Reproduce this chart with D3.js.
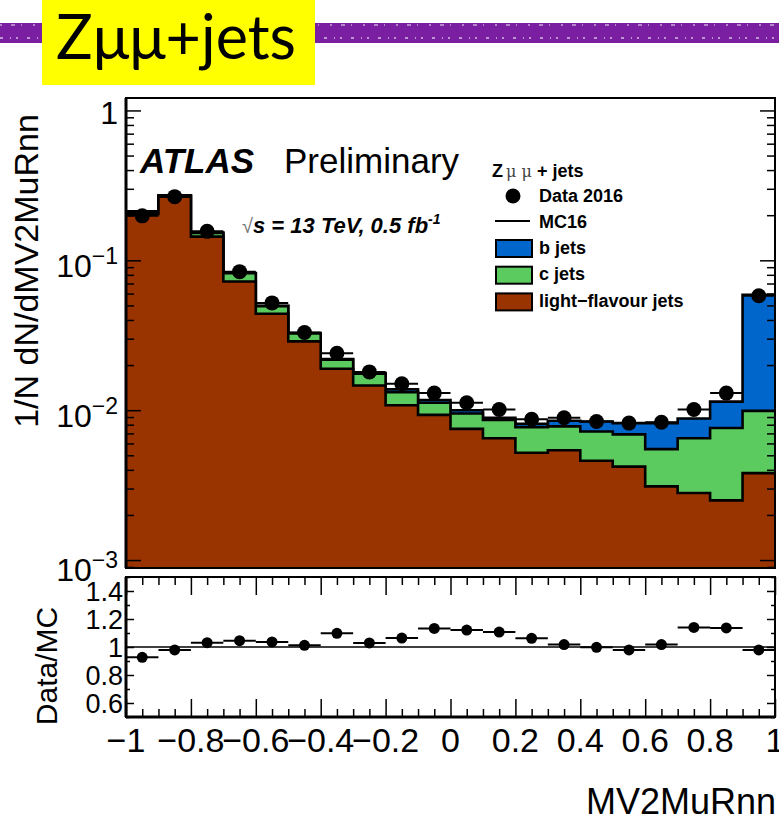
<!DOCTYPE html>
<html>
<head>
<meta charset="utf-8">
<script src="https://cdn.jsdelivr.net/npm/d3@7"></script>
<style>
  body { margin: 0; background: #fff; }
  svg { display: block; font-family: "Liberation Sans", Arial, Helvetica, sans-serif; }
</style>
</head>
<body>
<svg id="chart" width="779" height="822"></svg>
<script>
// bin edges of MV2MuRnn (20 bins)
const binEdges = [-1, -0.9, -0.8, -0.7, -0.6, -0.5, -0.4, -0.3, -0.2, -0.1, 0,
                  0.1, 0.2, 0.3, 0.4, 0.5, 0.6, 0.7, 0.8, 0.9, 1];

// MC16 stacked components (normalised)
const lightJets = [0.204, 0.266, 0.144, 0.0722, 0.0440, 0.0288, 0.0189, 0.0146, 0.0108, 0.0093,
                   0.0075, 0.0065, 0.0052, 0.0054, 0.0046, 0.0042, 0.0031, 0.0028, 0.0025, 0.0038];
const cJets = [0.006, 0.004, 0.008, 0.0098, 0.0055, 0.0037, 0.0028, 0.0029, 0.0024, 0.0019,
               0.0020, 0.0021, 0.0025, 0.0024, 0.0026, 0.0027, 0.0024, 0.0037, 0.0051, 0.0061];
const bJets = [0.002, 0.001, 0.001, 0.0003, 0.0002, 0.0002, 0.0002, 0.0002, 0.0006, 0.0005,
               0.0005, 0.0003, 0.0004, 0.0007, 0.0012, 0.0013, 0.0027, 0.0023, 0.0038, 0.049];

// Data 2016
const dataValues = [0.198, 0.266, 0.156, 0.084, 0.052, 0.033, 0.024, 0.018, 0.0150, 0.0130,
                    0.0112, 0.0101, 0.0087, 0.0089, 0.0084, 0.0082, 0.0083, 0.0101, 0.0130, 0.058];

// Data/MC ratio panel
const ratioValues = [0.926, 0.979, 1.031, 1.045, 1.036, 1.012, 1.098, 1.029, 1.064, 1.133,
                     1.121, 1.107, 1.062, 1.017, 0.998, 0.979, 1.017, 1.140, 1.136, 0.979];
const ratioErrors = [0.01, 0.01, 0.01, 0.01, 0.01, 0.01, 0.015, 0.015, 0.02, 0.02,
                     0.02, 0.02, 0.025, 0.02, 0.02, 0.02, 0.02, 0.02, 0.02, 0.012];

// tick labels
const mainYTicks = [1, 0.1, 0.01, 0.001];
const mainYExp = ["", "\u22121", "\u22122", "\u22123"];
const ratioYTicks = [0.6, 0.8, 1, 1.2, 1.4];
const xTickLabels = [-1, -0.8, -0.6, -0.4, -0.2, 0, 0.2, 0.4, 0.6, 0.8, 1];

const colors = { b: "#0066cc", c: "#5ccb5f", light: "#993300" };

const svg = d3.select("#chart");

const mainBox = { left: 126, right: 775, top: 98, bottom: 568 };
const ratioBox = { left: 126, right: 775, top: 577, bottom: 717 };

const x = d3.scaleLinear().domain([-1, 1]).range([mainBox.left, mainBox.right]);
const y = d3.scaleLog().domain([Math.pow(10, -3.053), Math.pow(10, 0.083)]).range([mainBox.bottom, mainBox.top]);
const yr = d3.scaleLinear().domain([0.5, 1.5]).range([ratioBox.bottom, ratioBox.top]);

// ---------- header banner ----------
svg.append("rect").attr("x", 0).attr("y", 23).attr("width", 779).attr("height", 20).attr("fill", "#7b1fa2");
svg.append("line").attr("x1", 0).attr("x2", 779).attr("y1", 38).attr("y2", 38)
  .attr("stroke", "#fff").attr("stroke-width", 1.5).attr("stroke-dasharray", "3 7 1 5 2 9").attr("opacity", 0.7);
svg.append("line").attr("x1", 0).attr("x2", 779).attr("y1", 25).attr("y2", 25)
  .attr("stroke", "#fff").attr("stroke-width", 1.5).attr("stroke-dasharray", "2 9 4 6 1 11").attr("opacity", 0.6);
svg.append("rect").attr("x", 42).attr("y", 0).attr("width", 273).attr("height", 85).attr("fill", "#ffff00");
svg.append("text").attr("x", 56).attr("y", 59)
  .style("font-family", "Lato, 'Open Sans', sans-serif").style("font-size", "61px")
  .attr("fill", "#000").text("Z\u03bc\u03bc+jets");

// ---------- main panel ----------
const clipMain = svg.append("defs").append("clipPath").attr("id", "clip-main");
clipMain.append("rect").attr("x", mainBox.left).attr("y", mainBox.top)
  .attr("width", mainBox.right - mainBox.left).attr("height", mainBox.bottom - mainBox.top);

const rows = lightJets.map((v, i) => ({ light: v, c: cJets[i], b: bJets[i] }));
const series = d3.stack().keys(["light", "c", "b"])(rows);

const stepPoints = s => {
  const pts = s.map((d, i) => [binEdges[i], d[1]]);
  pts.push([binEdges[binEdges.length - 1], s[s.length - 1][1]]);
  return pts;
};

const area = d3.area().curve(d3.curveStepAfter)
  .x(d => x(d[0])).y0(mainBox.bottom).y1(d => y(d[1]));
const line = d3.line().curve(d3.curveStepAfter)
  .x(d => x(d[0])).y(d => y(d[1]));

const gMain = svg.append("g").attr("clip-path", "url(#clip-main)");
// draw top-most layer first, like a ROOT stack
series.slice().reverse().forEach(s => {
  const pts = stepPoints(s);
  gMain.append("path").attr("d", area(pts)).attr("fill", colors[s.key]);
  gMain.append("path").attr("d", line(pts)).attr("fill", "none")
    .attr("stroke", "#000").attr("stroke-width", 2.6);
});

// data points
const gData = svg.append("g");
dataValues.forEach((v, i) => {
  const cx = x((binEdges[i] + binEdges[i + 1]) / 2);
  gData.append("line").attr("x1", x(binEdges[i])).attr("x2", x(binEdges[i + 1]))
    .attr("y1", y(v)).attr("y2", y(v)).attr("stroke", "#000").attr("stroke-width", 2);
  gData.append("circle").attr("cx", cx).attr("cy", y(v)).attr("r", 7.5).attr("fill", "#000");
});

// log y ticks (major on decades, minor 2..9)
const logTicks = y.ticks();
const isDecade = v => Math.abs(Math.log10(v) - Math.round(Math.log10(v))) < 1e-6;
const majorY = logTicks.filter(isDecade);
const minorY = logTicks.filter(v => !isDecade(v));

function tickAxis(axis, values, size, tx, ty) {
  const g = svg.append("g").attr("transform", `translate(${tx},${ty})`)
    .call(axis.tickValues(values).tickSize(size).tickFormat(""));
  g.select(".domain").remove();
  g.selectAll(".tick line").attr("stroke", "#000").attr("stroke-width", 1.5);
  return g;
}
tickAxis(d3.axisRight(y), majorY, 15, mainBox.left, 0);
tickAxis(d3.axisRight(y), minorY, 8, mainBox.left, 0);
tickAxis(d3.axisLeft(y), majorY, 15, mainBox.right, 0);
tickAxis(d3.axisLeft(y), minorY, 8, mainBox.right, 0);

// main frame
svg.append("rect").attr("x", mainBox.left).attr("y", mainBox.top)
  .attr("width", mainBox.right - mainBox.left).attr("height", mainBox.bottom - mainBox.top)
  .attr("fill", "none").attr("stroke", "#000").attr("stroke-width", 2);
svg.append("line").attr("x1", mainBox.left).attr("x2", mainBox.left)
  .attr("y1", mainBox.top).attr("y2", mainBox.bottom).attr("stroke", "#000").attr("stroke-width", 3);

// main y tick labels
mainYTicks.forEach((v, i) => {
  const t = svg.append("text").attr("x", 118).attr("y", y(v) + (i === 0 ? 14 : i === 3 ? 21 : 17))
    .attr("text-anchor", "end").style("font-size", "32px").attr("fill", "#000");
  if (i === 0) {
    t.text("1");
  } else {
    t.append("tspan").text("10");
    t.append("tspan").attr("dy", -13).style("font-size", "23px").text(mainYExp[i]);
  }
});

// main y title
svg.append("text").attr("transform", "translate(38,271) rotate(-90)")
  .attr("text-anchor", "middle").style("font-size", "34px").attr("fill", "#000")
  .text("1/N dN/dMV2MuRnn");

// ATLAS label
svg.append("text").attr("x", 140).attr("y", 173)
  .style("font-size", "35px").style("font-weight", "bold").style("font-style", "italic")
  .attr("fill", "#000").text("ATLAS");
svg.append("text").attr("x", 284).attr("y", 173)
  .style("font-size", "35px").attr("fill", "#000").text("Preliminary");

const energy = svg.append("text").attr("x", 242).attr("y", 233)
  .style("font-size", "22px").style("font-weight", "bold").style("font-style", "italic").attr("fill", "#000");
energy.append("tspan").style("font-weight", "normal").style("font-style", "normal")
  .style("font-size", "20px").attr("fill", "#777").text("\u221a");
energy.append("tspan").text("s  = 13 TeV, 0.5 fb");
energy.append("tspan").attr("dy", -9).style("font-size", "14px").text("-1");

// legend
const lg = svg.append("g").style("font-size", "18px").style("font-weight", "bold");
const legTitle = lg.append("text").attr("x", 492).attr("y", 177).attr("fill", "#000");
legTitle.append("tspan").text("Z");
legTitle.append("tspan").style("font-weight", "normal").style("font-family", "'DejaVu Serif', serif")
  .style("font-size", "16px").attr("fill", "#444").attr("dx", 3).text("\u03bc \u03bc");
legTitle.append("tspan").text("  + jets");

lg.append("circle").attr("cx", 513).attr("cy", 196).attr("r", 7.5).attr("fill", "#000");
lg.append("text").attr("x", 539).attr("y", 202).text("Data 2016");

lg.append("line").attr("x1", 495).attr("x2", 530).attr("y1", 221).attr("y2", 221)
  .attr("stroke", "#000").attr("stroke-width", 2);
lg.append("text").attr("x", 539).attr("y", 228).text("MC16");

const legBoxes = [["b", "b jets"], ["c", "c jets"], ["light", "light\u2212flavour jets"]];
legBoxes.forEach((d, i) => {
  const yy = 240 + i * 26.7;
  lg.append("rect").attr("x", 496).attr("y", yy).attr("width", 36).attr("height", 17)
    .attr("fill", colors[d[0]]).attr("stroke", "#000").attr("stroke-width", 2);
  lg.append("text").attr("x", 539).attr("y", yy + 13.5).text(d[1]);
});

// ---------- ratio panel ----------
svg.append("line").attr("x1", ratioBox.left).attr("x2", ratioBox.right)
  .attr("y1", yr(1)).attr("y2", yr(1)).attr("stroke", "#000").attr("stroke-width", 1.3);

const gRatio = svg.append("g");
ratioValues.forEach((v, i) => {
  const cx = x((binEdges[i] + binEdges[i + 1]) / 2);
  gRatio.append("line").attr("x1", x(binEdges[i])).attr("x2", x(binEdges[i + 1]))
    .attr("y1", yr(v)).attr("y2", yr(v)).attr("stroke", "#000").attr("stroke-width", 2);
  gRatio.append("line").attr("x1", cx).attr("x2", cx)
    .attr("y1", yr(v - ratioErrors[i])).attr("y2", yr(v + ratioErrors[i]))
    .attr("stroke", "#000").attr("stroke-width", 2);
  gRatio.append("circle").attr("cx", cx).attr("cy", yr(v)).attr("r", 5.5).attr("fill", "#000");
});

const xTicksAll = x.ticks(40);
const isMajorX = v => Math.abs(v * 5 - Math.round(v * 5)) < 1e-6;
tickAxis(d3.axisBottom(x), xTicksAll.filter(isMajorX), 18, 0, ratioBox.top);
tickAxis(d3.axisBottom(x), xTicksAll.filter(v => !isMajorX(v)), 8, 0, ratioBox.top);
tickAxis(d3.axisTop(x), xTicksAll.filter(isMajorX), 18, 0, ratioBox.bottom);
tickAxis(d3.axisTop(x), xTicksAll.filter(v => !isMajorX(v)), 8, 0, ratioBox.bottom);

const yrTicks = yr.ticks(10);
const isMajorR = v => Math.abs(v * 5 - Math.round(v * 5)) < 1e-6;
tickAxis(d3.axisRight(yr), yrTicks.filter(isMajorR), 8, ratioBox.left, 0);
tickAxis(d3.axisRight(yr), yrTicks.filter(v => !isMajorR(v)), 4, ratioBox.left, 0);
tickAxis(d3.axisLeft(yr), yrTicks.filter(isMajorR), 8, ratioBox.right, 0);
tickAxis(d3.axisLeft(yr), yrTicks.filter(v => !isMajorR(v)), 4, ratioBox.right, 0);

svg.append("rect").attr("x", ratioBox.left).attr("y", ratioBox.top)
  .attr("width", ratioBox.right - ratioBox.left).attr("height", ratioBox.bottom - ratioBox.top)
  .attr("fill", "none").attr("stroke", "#000").attr("stroke-width", 2);
svg.append("line").attr("x1", ratioBox.left).attr("x2", ratioBox.right)
  .attr("y1", ratioBox.bottom).attr("y2", ratioBox.bottom).attr("stroke", "#000").attr("stroke-width", 3);
svg.append("line").attr("x1", ratioBox.left).attr("x2", ratioBox.left)
  .attr("y1", ratioBox.top).attr("y2", ratioBox.bottom).attr("stroke", "#000").attr("stroke-width", 3);

// ratio y labels
ratioYTicks.forEach(v => {
  svg.append("text").attr("x", 123).attr("y", yr(v) + 9.5).attr("text-anchor", "end")
    .style("font-size", "27px").attr("fill", "#000").text(v);
});
svg.append("text").attr("transform", "translate(57,666) rotate(-90)")
  .attr("text-anchor", "middle").style("font-size", "30px").attr("fill", "#000").text("Data/MC");

// x tick labels
xTickLabels.forEach(v => {
  svg.append("text").attr("x", x(v)).attr("y", 752).attr("text-anchor", "middle")
    .style("font-size", "34px").attr("fill", "#000")
    .text(String(v).replace("-", "\u2212"));
});
svg.append("text").attr("x", 776).attr("y", 814).attr("text-anchor", "end")
  .style("font-size", "36px").attr("fill", "#000").text("MV2MuRnn");
</script>
</body>
</html>
